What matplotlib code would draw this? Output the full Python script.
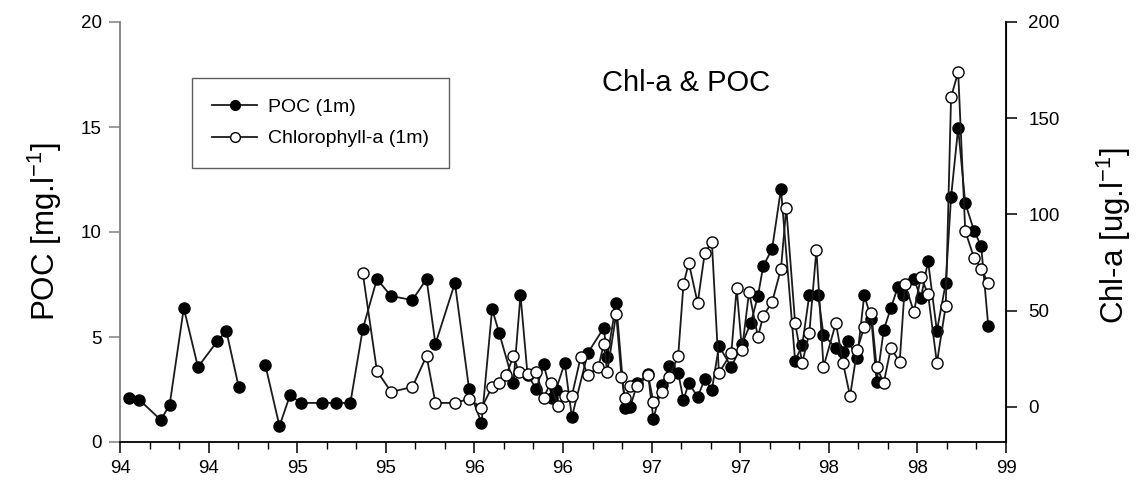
import matplotlib
matplotlib.use("Agg")
import matplotlib.pyplot as plt
import numpy as np
from matplotlib.ticker import MultipleLocator, FixedLocator
from matplotlib.lines import Line2D

plt.rcParams['font.family'] = ['Liberation Sans', 'DejaVu Sans']
plt.rcParams['mathtext.fontset'] = 'custom'
plt.rcParams['mathtext.rm'] = 'Liberation Sans'
plt.rcParams['mathtext.it'] = 'Liberation Sans'

# ---- data (decimal years, 94 = 1994) ----
poc_dates = [94.05, 94.11, 94.23, 94.28, 94.36, 94.44, 94.55, 94.60, 94.67, 94.75,
             94.82, 94.90, 94.96, 95.02, 95.14, 95.22, 95.30, 95.37, 95.45, 95.53,
             95.65, 95.73, 95.78, 95.89, 95.97, 96.04, 96.10, 96.14, 96.22, 96.26,
             96.30, 96.35, 96.39, 96.44, 96.46, 96.51, 96.55, 96.64, 96.73, 96.75,
             96.80, 96.85, 96.88, 96.92, 96.98, 97.01, 97.06, 97.10, 97.15, 97.18,
             97.21, 97.26, 97.30, 97.34, 97.38, 97.45, 97.51, 97.56, 97.60, 97.63,
             97.68, 97.73, 97.81, 97.85, 97.89, 97.94, 97.97, 98.04, 98.08, 98.11,
             98.16, 98.20, 98.24, 98.27, 98.31, 98.35, 98.39, 98.42, 98.48, 98.52,
             98.56, 98.61, 98.66, 98.69, 98.73, 98.77, 98.82, 98.86, 98.90]
poc_values = [2.10, 2.00, 1.05, 1.76, 6.38, 3.57, 4.81, 5.29, 2.62, np.nan,
              3.67, 0.76, 2.24, 1.86, 1.86, 1.86, 1.86, 5.38, 7.76, 6.95,
              6.76, 7.76, 4.67, 7.57, 2.52, 0.90, 6.33, 5.19, 2.81, 7.00,
              3.19, 2.52, 3.71, 2.10, 2.48, 3.76, 1.19, 4.24, 5.43, 4.05,
              6.62, 1.62, 1.67, 2.81, 3.24, 1.10, 2.71, 3.62, 3.29, 2.00,
              2.81, 2.14, 3.00, 2.48, 4.57, 3.57, 4.67, 5.67, 6.95, 8.38,
              9.19, 12.05, 3.86, 4.62, 7.00, 7.00, 5.10, 4.48, 4.29, 4.81,
              4.00, 7.00, 5.86, 2.86, 5.33, 6.38, 7.38, 7.00, 7.76, 6.86,
              8.62, 5.29, 7.57, 11.67, 14.95, 11.38, 10.05, 9.33, 5.52]

chl_dates = [95.37, 95.45, 95.53, 95.65, 95.73, 95.78, 95.89, 95.97, 96.04, 96.10,
             96.14, 96.18, 96.22, 96.25, 96.30, 96.35, 96.39, 96.43, 96.47, 96.51,
             96.55, 96.60, 96.64, 96.70, 96.73, 96.75, 96.80, 96.83, 96.85, 96.88,
             96.92, 96.98, 97.01, 97.06, 97.10, 97.15, 97.18, 97.21, 97.26, 97.30,
             97.34, 97.38, 97.45, 97.48, 97.51, 97.55, 97.60, 97.63, 97.68, 97.73,
             97.76, 97.81, 97.85, 97.89, 97.93, 97.97, 98.04, 98.08, 98.12, 98.16,
             98.20, 98.24, 98.27, 98.31, 98.35, 98.40, 98.43, 98.48, 98.52, 98.56,
             98.61, 98.66, 98.69, 98.73, 98.77, 98.82, 98.86, 98.90]
chl_values = [69.6, 18.7, 7.8, 10.4, 26.5, 2.1, 2.1, 4.2, -0.5, 10.4,
              12.5, 16.6, 26.5, 18.2, 17.1, 18.2, 4.7, 12.5, 0.5, 5.7,
              5.7, 26.0, 16.6, 20.8, 32.7, 18.2, 48.3, 15.6, 4.7, 10.9,
              10.9, 16.6, 2.6, 7.8, 15.6, 26.5, 63.9, 74.8, 54.0, 80.0,
              85.7, 17.7, 28.1, 61.8, 29.6, 59.7, 36.4, 47.3, 54.5, 71.7,
              103.4, 43.6, 22.9, 38.4, 81.6, 20.8, 43.6, 22.9, 5.7, 29.6,
              41.6, 48.8, 20.8, 12.5, 30.6, 23.4, 63.9, 49.4, 67.5, 58.7,
              22.9, 52.5, 161.0, 174.0, 91.4, 77.4, 71.7, 64.4]

x_tick_pos = [94.0, 94.5, 95.0, 95.5, 96.0, 96.5, 97.0, 97.5, 98.0, 98.5, 99.0]
x_tick_labels = ['94', '94', '95', '95', '96', '96', '97', '97', '98', '98', '99']
poc_ticks = [0, 5, 10, 15, 20]
chl_ticks = [0, 50, 100, 150, 200]

# ---- figure ----
W, H = 1142, 484
fig = plt.figure(figsize=(W / 100, H / 100), dpi=100)
ax = fig.add_axes([120 / W, 42 / H, 886 / W, 420 / H])
ax2 = ax.twinx()

line_col = '#1a1a1a'
ax.plot(poc_dates, poc_values, '-o', color=line_col, lw=1.3,
        ms=8, mfc='black', mec='black', mew=1.0, zorder=3)
ax2.plot(chl_dates, chl_values, '-o', color=line_col, lw=1.3,
         ms=8, mfc='white', mec='black', mew=1.0, zorder=3)

ax.set_xlim(94, 99)
ax.set_ylim(0, 20)
ax2.set_ylim(-18.2, 200)

ax.xaxis.set_major_locator(FixedLocator(x_tick_pos))
ax.set_xticklabels(x_tick_labels)
ax.xaxis.set_minor_locator(MultipleLocator(1 / 6))
ax.yaxis.set_major_locator(FixedLocator(poc_ticks))
ax2.yaxis.set_major_locator(FixedLocator(chl_ticks))

for a in (ax, ax2):
    a.spines['top'].set_visible(False)
ax.spines['left'].set_color('#808080')
ax.spines['left'].set_linewidth(1.3)
ax.spines['bottom'].set_linewidth(1.3)
ax2.spines['left'].set_visible(False)
ax2.spines['bottom'].set_visible(False)
ax2.spines['right'].set_linewidth(1.3)

ax.tick_params(axis='both', which='major', direction='out', length=8, width=1.1,
               labelsize=13.5, pad=5)
ax.tick_params(axis='x', which='minor', direction='out', length=5, width=1.0)
ax.tick_params(axis='y', which='major', color='#808080', labelcolor='black')
ax2.tick_params(axis='y', which='major', direction='out', length=8, width=1.1,
                labelsize=13.5, pad=8)

fig.text(45 / W, 1 - 232 / H, 'POC [mg.l$^{-1}$]', fontsize=22.5,
         rotation=90, ha='center', va='center')
fig.text(1114 / W, 1 - 236 / H, 'Chl-a [ug.l$^{-1}$]', fontsize=22.5,
         rotation=90, ha='center', va='center')

ax.text(0.639, 0.855, 'Chl-a & POC', transform=ax.transAxes,
        ha='center', va='center', fontsize=21)

handles = [Line2D([], [], color=line_col, lw=1.3, marker='o', ms=7,
                  mfc='black', mec='black'),
           Line2D([], [], color=line_col, lw=1.3, marker='o', ms=7,
                  mfc='white', mec='black')]
leg = ax2.legend(handles, ['POC (1m)', 'Chlorophyll-a (1m)'],
                 loc='upper left', bbox_to_anchor=(0.081, 0.867),
                 borderaxespad=0, fontsize=14, frameon=True, fancybox=False,
                 handlelength=2.3, handletextpad=0.55, borderpad=1.05,
                 labelspacing=0.72)
leg.get_frame().set_edgecolor('#333333')
leg.get_frame().set_linewidth(1.0)

fig.savefig('out.png', dpi=100)
